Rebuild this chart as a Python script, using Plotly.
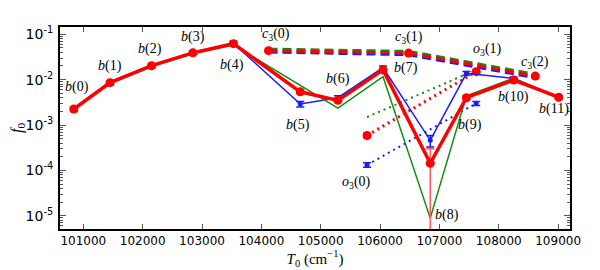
import plotly.graph_objects as go
import numpy as np

# ---------------- data ----------------
b_labels = ["b(0)", "b(1)", "b(2)", "b(3)", "b(4)", "b(5)", "b(6)", "b(7)", "b(8)", "b(9)", "b(10)", "b(11)"]
b_x = [100840, 101450, 102150, 102845, 103530, 104655, 105290, 106050, 106845, 107455, 108250, 109010]
b_red = [2.26e-3, 8.6e-3, 0.0203, 0.039, 0.062, 5.4e-3, 3.5e-3, 0.0164, 1.44e-4, 4.0e-3, 9.8e-3, 4.1e-3]
b_red_err_plus = [2e-4, 7e-4, 1.5e-3, 3e-3, 5e-3, 5e-4, 3e-4, 1.3e-3, 1.56e-4, 4e-4, 8e-4, 3e-4]
b_red_err_minus = [2e-4, 7e-4, 1.5e-3, 3e-3, 5e-3, 5e-4, 3e-4, 1.3e-3, 1.4399e-4, 4e-4, 8e-4, 3e-4]
b_green = [2.2e-3, 8.2e-3, 0.0195, 0.037, 0.058, 7.6e-3, 2.35e-3, 0.0116, 8.9e-6, 4.4e-3, 0.0107, 3.8e-3]
b_blue = [2.2e-3, 8.3e-3, 0.0200, 0.040, 0.063, 2.9e-3, 4.0e-3, 0.0184, 4.6e-4, 0.0138, 0.0107, 4.1e-3]
b_blue_err = [2e-4, 7e-4, 1.5e-3, 3e-3, 7e-3, 4e-4, 4e-4, 1.5e-3, 1.3e-4, 1.3e-3, 8e-4, 3e-4]

c3_labels = ["c3(0)", "c3(1)", "c3(2)"]
c3_x = [104120, 106480, 108615]
c3_red = [0.0435, 0.0385, 0.0120]
c3_green = [0.0470, 0.0420, 0.0131]
c3_blue = [0.0405, 0.0355, 0.0110]
c3_red_err = [2.5e-3, 2.5e-3, 1.2e-3]

o3_labels = ["o3(0)", "o3(1)"]
o3_x = [105780, 107620]
o3_red = [5.9e-4, 0.0150]
o3_green = [1.5e-3, 0.0164]
o3_blue = [1.32e-4, 3.0e-3]
o3_red_err = [6e-5, 1.2e-3]
o3_blue_err = [1.5e-5, 3e-4]

y_tickvals = [1e-5, 1e-4, 1e-3, 1e-2, 1e-1]
y_ticktext = ["10<sup>-5</sup>", "10<sup>-4</sup>", "10<sup>-3</sup>", "10<sup>-2</sup>", "10<sup>-1</sup>"]
x_tickvals = [101000, 102000, 103000, 104000, 105000, 106000, 107000, 108000, 109000]
x_ticktext = ["101000", "102000", "103000", "104000", "105000", "106000", "107000", "108000", "109000"]
y_minor = [m * 10.0 ** e for e in range(-6, 0) for m in range(2, 10)]

RED = "#ff0000"
GREEN = "#138a13"
BLUE = "#1a1aff"
PINK = "#ff5a5a"

fig = go.Figure()

# dashed c3 lines
fig.add_trace(go.Scatter(x=c3_x, y=c3_green, mode="lines",
                         line=dict(color=GREEN, width=3, dash="9px,5px")))
fig.add_trace(go.Scatter(x=c3_x, y=c3_blue, mode="lines",
                         line=dict(color=BLUE, width=3, dash="9px,5px")))
fig.add_trace(go.Scatter(x=c3_x, y=c3_red, mode="lines+markers",
                         line=dict(color=RED, width=3, dash="9px,5px"),
                         marker=dict(color=RED, size=9),
                         error_y=dict(type="data", array=c3_red_err, color=PINK, thickness=1.5, width=4)))

# dotted o3 lines
fig.add_trace(go.Scatter(x=o3_x, y=o3_green, mode="lines",
                         line=dict(color=GREEN, width=2, dash="2px,4px")))
fig.add_trace(go.Scatter(x=o3_x, y=o3_red, mode="lines+markers",
                         line=dict(color=RED, width=3, dash="2px,4px"),
                         marker=dict(color=RED, size=9),
                         error_y=dict(type="data", array=o3_red_err, color=PINK, thickness=1.5, width=4)))
fig.add_trace(go.Scatter(x=o3_x, y=o3_blue, mode="lines+markers",
                         line=dict(color=BLUE, width=2, dash="2px,4px"),
                         marker=dict(color=BLUE, size=5),
                         error_y=dict(type="data", array=o3_blue_err, color=BLUE, thickness=1.5, width=4)))

# solid b lines
fig.add_trace(go.Scatter(x=b_x, y=b_blue, mode="lines+markers",
                         line=dict(color=BLUE, width=1.5),
                         marker=dict(color=BLUE, size=5),
                         error_y=dict(type="data", array=b_blue_err, color=BLUE, thickness=1.5, width=4)))
fig.add_trace(go.Scatter(x=b_x, y=b_green, mode="lines",
                         line=dict(color=GREEN, width=1.5)))
fig.add_trace(go.Scatter(x=b_x, y=b_red, mode="lines+markers",
                         line=dict(color=RED, width=3.5),
                         marker=dict(color=RED, size=9),
                         error_y=dict(type="data", symmetric=False, array=b_red_err_plus,
                                      arrayminus=b_red_err_minus, color=PINK, thickness=1.5, width=4)))

# ---------------- labels ----------------
def fmt(lbl):
    name, rest = lbl.split("(")
    if len(name) == 2:
        return f"<i>{name[0]}</i><sub>{name[1]}</sub>({rest}"
    return f"<i>{name}</i>({rest}"

label_font = dict(family="Liberation Serif, DejaVu Serif, serif", size=14, color="black")
b_shift = [(3, 22), (0, 17), (-2, 17), (0, 16), (-1, -21), (-2, -33), (0, 21), (23, 2), (17, 3), (4, -27), (0, -17), (-5, -12)]
for i, lbl in enumerate(b_labels):
    yv = b_green[i] if i == 8 else b_red[i]
    fig.add_annotation(x=b_x[i], y=np.log10(yv), text=fmt(lbl), showarrow=False,
                       xshift=b_shift[i][0], yshift=b_shift[i][1], font=label_font)
c3_shift = [(7, 16), (0, 16), (0, 14)]
for i, lbl in enumerate(c3_labels):
    fig.add_annotation(x=c3_x[i], y=np.log10(c3_red[i]), text=fmt(lbl), showarrow=False,
                       xshift=c3_shift[i][0], yshift=c3_shift[i][1], font=label_font)
fig.add_annotation(x=o3_x[0], y=np.log10(o3_blue[0]), text=fmt(o3_labels[0]), showarrow=False,
                   xshift=-11, yshift=-18, font=label_font)
fig.add_annotation(x=o3_x[1], y=np.log10(o3_red[1]), text=fmt(o3_labels[1]), showarrow=False,
                   xshift=11, yshift=22, font=label_font)

# The page body has an 8px margin, so the figure is made 8px smaller and offsets reduced accordingly.
xtick_font = dict(family="DejaVu Sans, sans-serif", size=12, color="black")
ytick_font = dict(family="DejaVu Sans, sans-serif", size=14, color="black")
fig.update_layout(
    width=592, height=262,
    margin=dict(l=52, r=30, t=19, b=41, pad=0, autoexpand=False),
    paper_bgcolor="white", plot_bgcolor="white",
    showlegend=False,
    xaxis=dict(range=[100607, 109200], tickvals=x_tickvals, ticktext=x_ticktext,
               ticks="inside", ticklen=5, ticklabelstandoff=0, automargin=False,
               tickwidth=1, tickcolor="#555", showline=True, linecolor="black", linewidth=2,
               mirror="ticks", showgrid=False, zeroline=False, tickfont=xtick_font,
               title=dict(text="<i>T</i><sub>0</sub> (cm<sup>−1</sup>)",
                          font=dict(family="Liberation Serif, DejaVu Serif, serif", size=15, color="black"),
                          standoff=0)),
    yaxis=dict(type="log", range=[-5.29, -0.84], tickvals=y_tickvals, ticktext=y_ticktext,
               ticks="inside", ticklen=6, tickwidth=1, tickcolor="#555", automargin=False,
               ticklabelstandoff=2,
               minor=dict(ticks="inside", ticklen=3, tickwidth=1, tickcolor="#555", tickmode="array",
                          tickvals=y_minor, showgrid=False),
               showline=True, linecolor="black", linewidth=2, mirror="ticks",
               showgrid=False, zeroline=False, tickfont=ytick_font,
               title=dict(text="<i>f</i><sub>0</sub>",
                          font=dict(family="Liberation Serif, DejaVu Serif, serif", size=16, color="black"),
                          standoff=2)),
)

fig.write_html("out.html")
